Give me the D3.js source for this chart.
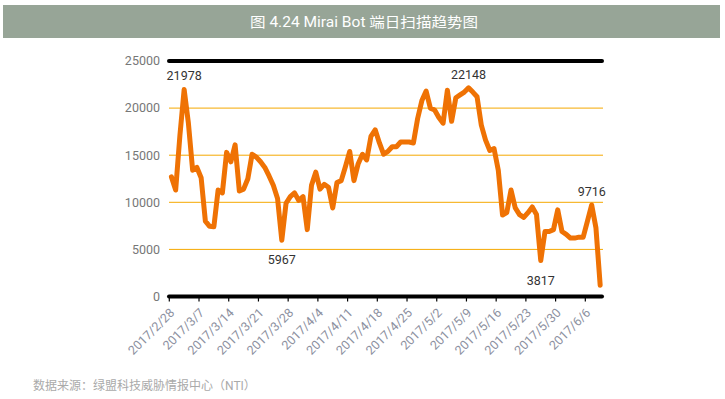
<!DOCTYPE html>
<html lang="zh">
<head>
  <meta charset="UTF-8">
  <title>Mirai Bot 端日扫描趋势图</title>
  <script src="https://d3js.org/d3.v7.min.js"></script>
  <style>
    body { margin: 0; background: #fff; }
    svg { display: block; }
    text { font-family: Roboto, "Noto Sans CJK SC", sans-serif; }
  </style>
</head>
<body>
<svg id="chart" width="725" height="399"></svg>

<script>
// 扫描次数，2017/2/28 起每天一个值
const startDate = new Date(2017, 1, 28);
const scans = [
  12700, 11300, 17100, 21978, 18400, 13400, 13700, 12600, 8000, 7450,
  7400, 11300, 11000, 15300, 14300, 16100, 11200, 11400, 12500, 15100,
  14800, 14300, 13700, 12800, 11800, 10400, 5967, 9900, 10600, 11000,
  10200, 10600, 7100, 11800, 13200, 11400, 11900, 11600, 9400, 12100,
  12300, 13800, 15400, 12300, 14100, 15100, 14500, 17000, 17700, 16300,
  15100, 15400, 15900, 15900, 16400, 16400, 16400, 16300, 18900, 20800,
  21800, 20000, 19800, 19000, 18400, 21900, 18600, 21100, 21400, 21700,
  22148, 21700, 21200, 18200, 16600, 15500, 15700, 13400, 8650, 8900,
  11300, 9400, 8700, 8400, 8900, 9500, 8700, 3817, 6900, 6900,
  7100, 9200, 6900, 6600, 6200, 6200, 6300, 6300, 8000, 9716,
  7300, 1200
];
const xTickLabels = ["2017/2/28", "2017/3/7", "2017/3/14", "2017/3/21", "2017/3/28",
  "2017/4/4", "2017/4/11", "2017/4/18", "2017/4/25", "2017/5/2", "2017/5/9",
  "2017/5/16", "2017/5/23", "2017/5/30", "2017/6/6"];
const yTicks = [0, 5000, 10000, 15000, 20000, 25000];
// 标注的峰值和谷值（下标）
const marked = [
  {i: 3, pos: "up"}, {i: 26, pos: "down"}, {i: 70, pos: "up"},
  {i: 87, pos: "down"}, {i: 99, pos: "up"}
];

const fmt = d3.timeFormat("%Y/%-m/%-d");
const days = scans.map((_, i) => d3.timeDay.offset(startDate, i));
const data = days.map((d, i) => ({date: fmt(d), value: scans[i]}));

const svg = d3.select("#chart");

// 标题栏
svg.append("rect")
  .attr("x", 3).attr("y", 5).attr("width", 717).attr("height", 33)
  .attr("fill", "#97a597");
svg.append("text")
  .attr("x", 364).attr("y", 27)
  .attr("text-anchor", "middle")
  .attr("fill", "#fff")
  .style("font-size", "14px")
  .attr("textLength", 228)
  .attr("lengthAdjust", "spacingAndGlyphs")
  .text("图 4.24 Mirai Bot 端日扫描趋势图");

const x = d3.scaleBand()
  .domain(data.map(d => d.date))
  .range([169.3, 602.3])
  .padding(0);
const y = d3.scaleLinear().domain([0, 25000]).range([296.5, 61]);
const cx = d => x(d.date) + x.bandwidth() / 2;

// 网格线
svg.selectAll(".grid")
  .data(yTicks.filter(t => t > 0 && t < 25000))
  .join("line")
  .attr("x1", 169).attr("x2", 603)
  .attr("y1", d => y(d)).attr("y2", d => y(d))
  .attr("stroke", "#f5a800").attr("stroke-width", 1);

// 上下两条粗线
svg.selectAll(".edge")
  .data([0, 25000])
  .join("line")
  .attr("x1", 169).attr("x2", 602)
  .attr("y1", d => y(d)).attr("y2", d => y(d))
  .attr("stroke", "#000").attr("stroke-width", 4)
  .attr("stroke-linecap", "round");

// y 轴刻度文字
svg.selectAll(".ylab")
  .data(yTicks)
  .join("text")
  .attr("x", 160).attr("y", d => y(d))
  .attr("dy", "0.35em")
  .attr("text-anchor", "end")
  .attr("fill", "#777")
  .style("font-size", "12.5px")
  .text(d => d);

// x 轴刻度
svg.selectAll(".xtick")
  .data(xTickLabels)
  .join("line")
  .attr("x1", d => x(d)).attr("x2", d => x(d))
  .attr("y1", y(0)).attr("y2", y(0) + 5)
  .attr("stroke", "#000").attr("stroke-width", 1.2);

svg.selectAll(".xlab")
  .data(xTickLabels)
  .join("text")
  .attr("transform", d => `translate(${x(d) + 6},${y(0) + 17}) rotate(-45)`)
  .attr("text-anchor", "end")
  .attr("fill", "#8c90a0")
  .style("font-size", "12.5px")
  .text(d => d);

// 折线
const line = d3.line().x(cx).y(d => y(d.value));
svg.append("path")
  .datum(data)
  .attr("d", line)
  .attr("fill", "none")
  .attr("stroke", "#ef7204")
  .attr("stroke-width", 5)
  .attr("stroke-linejoin", "round")
  .attr("stroke-linecap", "round");

// 数值标注
svg.selectAll(".mark")
  .data(marked)
  .join("text")
  .attr("x", m => cx(data[m.i]))
  .attr("y", m => y(data[m.i].value) + (m.pos === "up" ? -9 : 24))
  .attr("text-anchor", "middle")
  .attr("fill", "#333")
  .style("font-size", "12.5px")
  .text(m => data[m.i].value);

// 数据来源
svg.append("text")
  .attr("x", 33).attr("y", 390)
  .attr("fill", "#aaa")
  .style("font-size", "12px")
  .text("数据来源：绿盟科技威胁情报中心（NTI）");
</script>
</body>
</html>
